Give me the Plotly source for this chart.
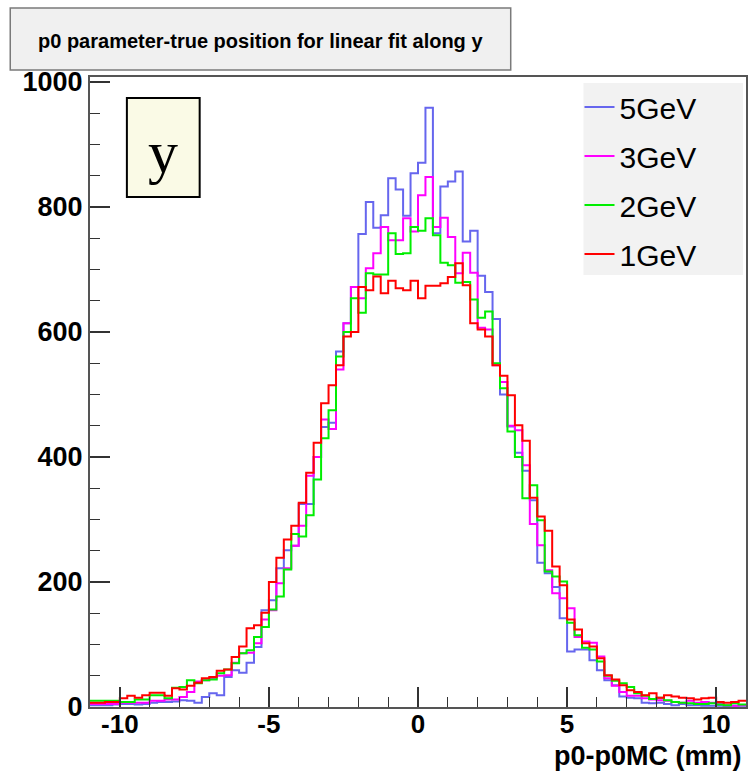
import numpy as np
import plotly.graph_objects as go

# histogram binning: 88 bins of 0.25 mm from -11 to 11
bin_edges = np.linspace(-11, 11, 89)

series_names = ["5GeV", "3GeV", "2GeV", "1GeV"]
series_colors = ["#6666ee", "#ff00ff", "#00ee00", "#ff0000"]

counts_5gev = [3,3,3,4, 5,5,4,5, 7,8,8,9, 11,10,7,16, 22,19,48,59, 55,71,96,155,
               171,222,251,258, 325,325,400,448, 455,569,614,672, 757,808,767,787,
               846,828,786,854, 871,959,758,833, 841,857,745,762, 690,664,621,500,
               449,407,378,331, 231,214,192,142, 89,92,92,75, 59,43,35,17,
               15,14,7,6, 7,5,3,5, 3,3,2,2, 2,1,2,2]
counts_3gev = [5,5,5,5, 7,7,7,7, 10,10,12,12, 16,24,41,43, 46,50,51,71, 86,87,102,140,
               155,198,222,258, 290,370,400,460, 445,540,614,672, 654,702,726,768,
               747,747,782,761, 819,848,768,783, 752,694,727,695, 607,604,547,520,
               450,443,387,293, 259,219,182,174, 158,112,105,103, 81,46,34,24,
               18,18,14,12, 11,10,8,7, 10,7,8,7, 5,3,2,3]
counts_2gev = [10,10,10,10, 8,8,12,12, 19,19,14,31, 32,43,38,43, 44,54,60,70, 86,91,112,128,
               156,177,220,277, 273,307,364,430, 475,561,600,654, 631,694,692,692,
               758,725,726,768, 762,782,755,711, 707,679,680,652, 623,633,550,510,
               441,400,334,355, 299,217,209,201, 135,115,95,92, 73,50,42,38,
               32,22,18,13, 15,11,8,7, 6,5,5,6, 4,3,6,4]
counts_1gev = [7,7,8,8, 14,18,15,19, 23,23,18,30, 28,34,39,46, 48,58,60,80, 97,126,131,151,
               200,239,268,290, 327,375,423,486, 515,547,593,600, 672,667,689,662,
               682,670,667,682, 654,674,674,678, 688,710,675,614, 604,593,547,530,
               499,451,426,335, 305,282,225,195, 140,124,102,97, 78,51,44,35,
               27,24,19,22, 15,19,17,15, 14,12,14,15, 8,7,8,10]

all_counts = [counts_5gev, counts_3gev, counts_2gev, counts_1gev]

x_ticks = [-10, -5, 0, 5, 10]
y_ticks = [0, 200, 400, 600, 800, 1000]

title_text = "p0 parameter-true position for linear fit along y"
x_title = "p0-p0MC (mm)"
panel_label = "y"

FONT = "Liberation Sans"

fig = go.Figure()
for name, color, counts in zip(series_names, series_colors, all_counts):
    assert len(counts) == 88
    fig.add_trace(go.Scatter(
        x=bin_edges, y=list(counts) + [counts[-1]],
        mode="lines", line=dict(color=color, width=2, shape="hv"),
        name=name, legendgroup=name,
    ))

# pixel -> paper helpers for decorations
L, R, T, B = 90, 2, 77, 66
W, H = 750, 773
PW, PH = W - L - R, H - T - B
def px(x):
    return (x - L) / PW
def py(y):
    return (H - B - y) / PH

shapes = [
    # title box
    dict(type="rect", xref="paper", yref="paper", x0=px(10), x1=px(512), y0=py(70), y1=py(8),
         fillcolor="#f0f0f0", line=dict(color="#7a7a7a", width=1.5), layer="above"),
    # panel label box
    dict(type="rect", xref="paper", yref="paper", x0=px(127), x1=px(200), y0=py(197), y1=py(98),
         fillcolor="#fafae6", line=dict(color="black", width=2), layer="above"),
    # legend background
    dict(type="rect", xref="paper", yref="paper", x0=px(585), x1=px(745), y0=py(275), y1=py(83),
         fillcolor="#f2f2f2", line=dict(width=0), layer="above"),
]

annotations = [
    dict(text="<b>" + title_text + "</b>", xref="paper", yref="paper", x=px(261), y=py(41),
         xanchor="center", yanchor="middle", showarrow=False,
         font=dict(family=FONT, size=20, color="black")),
    dict(text=panel_label, xref="paper", yref="paper", x=px(163.5), y=py(152),
         xanchor="center", yanchor="middle", showarrow=False,
         font=dict(family="Liberation Serif", size=60, color="black")),
    dict(text="<b>" + x_title + "</b>", xref="paper", yref="paper", x=px(746), y=py(756),
         xanchor="right", yanchor="middle", showarrow=False,
         font=dict(family=FONT, size=27, color="black")),
]

fig.update_layout(
    width=W, height=H,
    margin=dict(l=L, r=R, t=T, b=B),
    paper_bgcolor="white", plot_bgcolor="white",
    shapes=shapes, annotations=annotations,
    showlegend=True,
    legend=dict(x=px(581), y=py(81), xanchor="left", yanchor="top",
                bgcolor="rgba(0,0,0,0)", borderwidth=0,
                font=dict(family=FONT, size=30, color="black"),
                tracegroupgap=7, itemwidth=30),
    xaxis=dict(range=[-11, 11], tickvals=x_ticks, ticktext=[str(v) for v in x_ticks],
               ticks="inside", ticklen=20, tickwidth=1.5, tickcolor="#333",
               minor=dict(dtick=1, ticks="inside", ticklen=10, tickcolor="#333", tickwidth=1.2),
               showgrid=False, zeroline=False, ticklabelstandoff=-7,
               showline=True, linecolor="#555", linewidth=2, mirror=True,
               tickfont=dict(family=FONT, size=26, color="black", weight="bold")),
    yaxis=dict(range=[0, 1008], tickvals=y_ticks, ticktext=[str(v) for v in y_ticks],
               ticks="inside", ticklen=20, tickwidth=1.5, tickcolor="#333",
               minor=dict(dtick=50, ticks="inside", ticklen=10, tickcolor="#333", tickwidth=1.2),
               showgrid=False, zeroline=False,
               showline=True, linecolor="#555", linewidth=2, mirror=True,
               tickfont=dict(family=FONT, size=27, color="black", weight="bold")),
)

fig.write_html("out.html")
